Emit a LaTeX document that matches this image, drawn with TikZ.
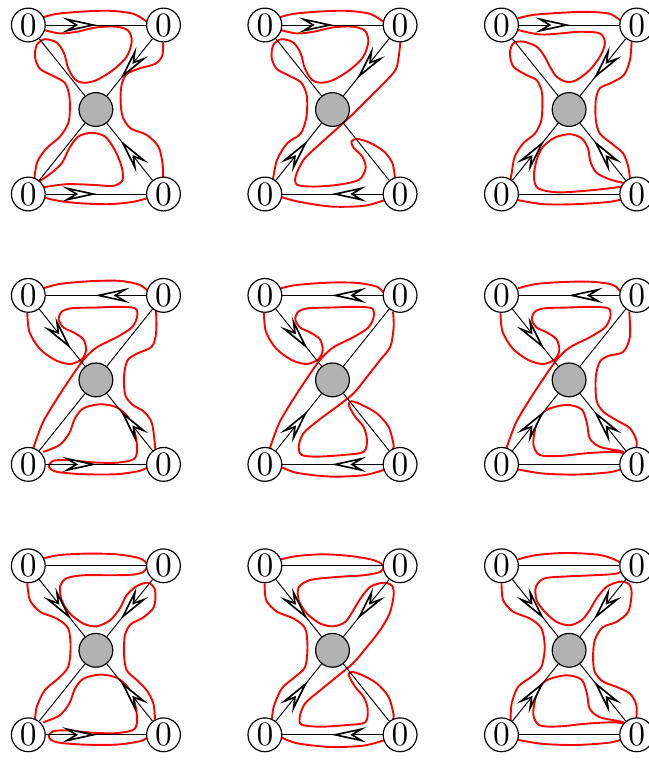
\documentclass[tikz,border=0pt]{standalone}
\usepackage{tikz}
\usetikzlibrary{decorations.markings}

\begin{document}
\begin{tikzpicture}[
    x=0.5cm, y=0.5cm,
    vert/.style={circle, draw=black, fill=white, line width=0.5pt,
                 minimum size=0.5cm, inner sep=0pt,
                 font=\fontsize{14.4}{17}\selectfont},
    hub/.style={circle, draw=black, fill=black!30, line width=0.5pt,
                minimum size=0.5cm, inner sep=0pt},
    link/.style={line width=0.4pt},
    noarr/.style={},
    arr/.style={postaction={decorate, decoration={markings,
                mark=at position 0.7cm with {\draw[fill=white, line width=0.7pt]
                (0,0) -- (-11pt,2.4pt) -- (-7pt,0pt) -- (-11pt,-2.4pt) -- cycle;}}}},
    ribbon/.style={red, line width=0.8pt}
]
\useasboundingbox (-0.837,0.74) rectangle (18.364,-21.864);

% row 1
\begin{scope}[shift={(0,0)}]
\draw[ribbon] plot[smooth] coordinates {(0.44,0.23) (0.84,0.33) (1.63,0.40) (2.42,0.42) (3.11,0.33) (3.50,0.10)};
\draw[ribbon] plot[smooth] coordinates {(0.47,-0.15) (0.94,-0.25) (1.43,-0.20) (2.02,-0.07) (2.61,-0.05) (2.96,-0.17) (3.06,-0.49) (2.91,-0.94) (2.51,-1.33) (2.02,-1.63) (1.63,-1.71) (1.38,-1.61) (1.18,-1.28) (1.06,-0.84) (0.84,-0.52) (0.49,-0.42) (0.25,-0.59) (0.20,-0.96) (0.35,-1.30) (0.74,-1.51) (1.08,-1.71) (1.21,-2.07) (1.23,-2.51) (1.18,-2.91) (0.94,-3.30) (0.54,-3.65) (0.27,-4.04) (0.18,-4.52)};
\draw[ribbon] plot[smooth] coordinates {(3.99,-0.52) (3.96,-0.92) (3.75,-1.15) (3.30,-1.28) (2.91,-1.45) (2.76,-1.78) (2.73,-2.22) (2.79,-2.71) (3.03,-3.06) (3.50,-3.25) (3.85,-3.60) (3.97,-4.09) (3.99,-4.49)};
\draw[ribbon] plot[smooth] coordinates {(3.50,-5.13) (3.11,-5.23) (2.42,-5.30) (1.63,-5.28) (0.94,-5.21) (0.44,-5.10)};
\draw[ribbon] plot[smooth] coordinates {(0.33,-4.62) (0.64,-4.41) (0.99,-4.09) (1.21,-3.65) (1.48,-3.30) (1.87,-3.19) (2.27,-3.30) (2.56,-3.70) (2.76,-4.19) (2.79,-4.59) (2.51,-4.76) (1.92,-4.73) (1.13,-4.71) (0.45,-4.80)};
\end{scope}

\begin{scope}[shift={(7,0)}]
\draw[ribbon] plot[smooth] coordinates {(0.44,0.23) (0.84,0.33) (1.63,0.40) (2.42,0.42) (3.11,0.33) (3.50,0.10)};
\draw[ribbon] plot[smooth] coordinates {(0.47,-0.15) (0.94,-0.25) (1.43,-0.20) (2.02,-0.07) (2.61,-0.05) (2.96,-0.17) (3.06,-0.49) (2.91,-0.94) (2.51,-1.33) (2.02,-1.63) (1.63,-1.71) (1.38,-1.61) (1.18,-1.28) (1.06,-0.84) (0.84,-0.52) (0.49,-0.42) (0.25,-0.59) (0.20,-0.96) (0.35,-1.30) (0.74,-1.51) (1.08,-1.71) (1.24,-2.10) (1.23,-2.71) (1.06,-3.21) (0.66,-3.50) (0.36,-3.99) (0.24,-4.56)};
\draw[ribbon] plot[smooth] coordinates {(4.01,-0.49) (3.96,-0.93) (3.87,-1.32) (3.57,-1.67) (3.13,-2.11) (2.63,-2.61) (2.14,-3.06) (1.65,-3.50) (1.15,-3.98) (0.91,-4.48) (0.96,-4.73) (1.45,-4.78) (2.14,-4.73) (2.78,-4.58) (2.98,-4.23) (2.88,-3.89) (2.63,-3.64) (2.56,-3.45) (2.73,-3.37) (3.12,-3.49) (3.52,-3.74) (3.77,-4.08) (3.85,-4.53)};
\draw[ribbon] plot[smooth] coordinates {(3.57,-5.17) (2.93,-5.35) (1.94,-5.37) (0.96,-5.22) (0.46,-5.08)};
\end{scope}

\begin{scope}[shift={(14,0)}]
\draw[ribbon] plot[smooth] coordinates {(0.49,0.20) (0.94,0.30) (1.73,0.36) (2.51,0.39) (3.21,0.33) (3.55,0.10)};
\draw[ribbon] plot[smooth] coordinates {(0.49,-0.15) (1.13,-0.28) (1.73,-0.25) (2.32,-0.20) (2.91,-0.25) (3.06,-0.54) (2.91,-0.94) (2.61,-1.33) (2.22,-1.63) (1.92,-1.68) (1.63,-1.53) (1.43,-1.23) (1.28,-0.94) (1.04,-0.64) (0.64,-0.49) (0.35,-0.54) (0.25,-0.84) (0.35,-1.23) (0.74,-1.48) (1.04,-1.63) (1.18,-1.92) (1.21,-2.22) (1.18,-2.81) (0.99,-3.21) (0.64,-3.50) (0.39,-3.90) (0.30,-4.39) (0.27,-4.58)};
\draw[ribbon] plot[smooth] coordinates {(3.85,-0.48) (3.80,-1.04) (3.62,-1.48) (3.25,-1.71) (2.91,-1.87) (2.79,-2.22) (2.79,-2.81) (2.91,-3.21) (3.25,-3.50) (3.60,-3.80) (3.75,-4.19) (3.80,-4.55)};
\draw[ribbon] plot[smooth] coordinates {(0.49,-5.18) (1.23,-5.30) (2.22,-5.30) (3.21,-5.23) (3.65,-5.13)};
\draw[ribbon] plot[smooth] coordinates {(3.65,-4.68) (3.21,-4.57) (2.81,-4.37) (2.63,-4.04) (2.56,-3.65) (2.37,-3.35) (2.02,-3.23) (1.58,-3.33) (1.23,-3.60) (1.04,-3.99) (0.96,-4.49) (1.08,-4.83) (1.63,-4.95) (2.42,-4.91) (3.21,-4.83) (3.55,-4.78)};
\end{scope}

% row 2
\begin{scope}[shift={(0,-8)}]
\draw[ribbon] plot[smooth] coordinates {(0.44,0.21) (0.94,0.34) (1.82,0.42) (2.71,0.43) (3.30,0.31) (3.55,0.11)};
\draw[ribbon] plot[smooth] coordinates {(-0.03,-0.51) (0.03,-1.07) (0.33,-1.57) (0.79,-1.91) (1.23,-2.03) (1.58,-1.89) (1.71,-1.62) (1.63,-1.30) (1.35,-1.10) (1.04,-0.95) (0.90,-0.71) (0.99,-0.48) (1.28,-0.38) (1.92,-0.36) (2.66,-0.34) (3.16,-0.38) (3.22,-0.63) (3.06,-0.95) (2.61,-1.24) (2.02,-1.54) (1.63,-1.91) (1.18,-2.55) (0.79,-3.15) (0.44,-3.74) (0.23,-4.28) (0.15,-4.52)};
\draw[ribbon] plot[smooth] coordinates {(3.78,-0.45) (3.78,-1.12) (3.65,-1.52) (3.22,-1.72) (2.93,-1.93) (2.83,-2.41) (2.87,-2.95) (3.09,-3.24) (3.42,-3.44) (3.66,-3.79) (3.76,-4.56)};
\draw[ribbon] plot[smooth] coordinates {(0.44,-4.63) (0.92,-4.43) (1.21,-4.08) (1.38,-3.64) (1.63,-3.34) (2.12,-3.22) (2.61,-3.31) (2.96,-3.61) (3.16,-4.08) (3.22,-4.58) (3.11,-4.85) (2.61,-4.95) (1.92,-4.94) (1.13,-4.87) (0.72,-4.90) (0.61,-5.07) (0.84,-5.22) (1.63,-5.29) (2.61,-5.29) (3.30,-5.19) (3.55,-5.07)};
\end{scope}

\begin{scope}[shift={(7,-8)}]
\draw[ribbon] plot[smooth] coordinates {(0.47,0.21) (0.95,0.31) (1.93,0.38) (2.72,0.37) (3.31,0.26) (3.51,0.08)};
\draw[ribbon] plot[smooth] coordinates {(-0.03,-0.51) (0.03,-1.07) (0.33,-1.57) (0.79,-1.91) (1.23,-2.03) (1.58,-1.89) (1.71,-1.62) (1.63,-1.30) (1.35,-1.10) (1.04,-0.95) (0.90,-0.71) (0.99,-0.48) (1.28,-0.38) (1.92,-0.36) (2.66,-0.34) (3.16,-0.38) (3.22,-0.63) (3.06,-0.95) (2.61,-1.24) (2.02,-1.54) (1.63,-1.91) (1.18,-2.55) (0.79,-3.15) (0.44,-3.74) (0.23,-4.28) (0.15,-4.52)};
\draw[ribbon] plot[smooth] coordinates {(3.79,-0.48) (3.81,-0.93) (3.71,-1.52) (3.41,-1.91) (3.02,-2.41) (2.62,-2.90) (2.13,-3.29) (1.59,-3.69) (1.14,-4.08) (1.00,-4.48) (1.09,-4.72) (1.54,-4.77) (2.33,-4.72) (2.92,-4.63) (3.02,-4.28) (2.92,-3.89) (2.67,-3.59) (2.48,-3.24) (2.57,-3.13) (2.87,-3.24) (3.31,-3.49) (3.66,-3.89) (3.81,-4.43) (3.78,-4.55)};
\draw[ribbon] plot[smooth] coordinates {(3.56,-5.15) (2.92,-5.32) (1.93,-5.36) (0.95,-5.25) (0.47,-5.07)};
\end{scope}

\begin{scope}[shift={(14,-8)}]
\draw[ribbon] plot[smooth] coordinates {(0.49,0.21) (1.04,0.34) (1.92,0.40) (2.71,0.40) (3.30,0.31) (3.55,0.08)};
\draw[ribbon] plot[smooth] coordinates {(-0.03,-0.51) (0.03,-1.07) (0.33,-1.57) (0.79,-1.91) (1.23,-2.03) (1.58,-1.89) (1.71,-1.62) (1.63,-1.30) (1.35,-1.10) (1.04,-0.95) (0.90,-0.71) (0.99,-0.48) (1.28,-0.38) (1.92,-0.36) (2.66,-0.34) (3.16,-0.38) (3.22,-0.63) (3.06,-0.95) (2.61,-1.24) (2.02,-1.54) (1.63,-1.91) (1.18,-2.55) (0.79,-3.15) (0.44,-3.74) (0.23,-4.28) (0.15,-4.52)};
\draw[ribbon] plot[smooth] coordinates {(3.78,-0.48) (3.80,-1.22) (3.60,-1.67) (3.16,-1.79) (2.91,-1.96) (2.79,-2.41) (2.81,-3.10) (3.01,-3.44) (3.40,-3.69) (3.80,-3.93) (3.99,-4.28) (3.99,-4.50)};
\draw[ribbon] plot[smooth] coordinates {(3.65,-4.67) (3.30,-4.63) (2.51,-4.67) (1.73,-4.75) (1.13,-4.72) (0.94,-4.38) (1.06,-3.74) (1.33,-3.39) (1.92,-3.24) (2.37,-3.37) (2.53,-3.79) (2.61,-4.23) (2.91,-4.48) (3.50,-4.60) (3.62,-4.64)};
\draw[ribbon] plot[smooth] coordinates {(0.49,-5.15) (1.23,-5.27) (2.22,-5.30) (3.21,-5.23) (3.65,-5.10)};
\end{scope}

% row 3
\begin{scope}[shift={(0,-16)}]
\draw[ribbon] plot[smooth] coordinates {(0.44,0.22) (0.94,0.32) (1.73,0.36) (2.61,0.34) (3.30,0.22) (3.52,0.02) (3.40,-0.18) (3.11,-0.26) (2.51,-0.28) (1.63,-0.28) (1.13,-0.37) (0.94,-0.62) (0.99,-1.02) (1.23,-1.41) (1.63,-1.71) (2.02,-1.79) (2.42,-1.61) (2.71,-1.26) (2.91,-0.87) (3.21,-0.60) (3.55,-0.50) (3.75,-0.72) (3.72,-1.21) (3.40,-1.53) (3.03,-1.73) (2.86,-2.05) (2.83,-2.59) (2.91,-3.09) (3.21,-3.38) (3.50,-3.68) (3.70,-4.07) (3.75,-4.55)};
\draw[ribbon] plot[smooth] coordinates {(-0.03,-0.52) (0.05,-1.02) (0.35,-1.36) (0.84,-1.56) (1.18,-1.85) (1.25,-2.40) (1.18,-2.99) (0.89,-3.33) (0.49,-3.68) (0.25,-4.17) (0.20,-4.55)};
\draw[ribbon] plot[smooth] coordinates {(0.44,-4.63) (0.92,-4.43) (1.21,-4.08) (1.38,-3.64) (1.63,-3.34) (2.12,-3.22) (2.61,-3.31) (2.96,-3.61) (3.16,-4.08) (3.22,-4.58) (3.11,-4.85) (2.61,-4.95) (1.92,-4.94) (1.13,-4.87) (0.72,-4.90) (0.61,-5.07) (0.84,-5.22) (1.63,-5.29) (2.61,-5.29) (3.30,-5.19) (3.55,-5.07)};
\end{scope}

\begin{scope}[shift={(7,-16)}]
\draw[ribbon] plot[smooth] coordinates {(0.47,0.19) (0.95,0.29) (1.74,0.34) (2.52,0.29) (3.21,0.17) (3.51,0.0) (3.41,-0.18) (2.92,-0.28) (2.13,-0.33) (1.34,-0.42) (1.00,-0.64) (1.00,-1.02) (1.24,-1.41) (1.64,-1.71) (2.03,-1.79) (2.38,-1.66) (2.62,-1.31) (2.82,-0.98) (3.12,-0.62) (3.51,-0.50) (3.76,-0.59) (3.81,-0.87) (3.69,-1.41) (3.41,-1.90) (3.02,-2.40) (2.62,-2.87) (2.13,-3.28) (1.64,-3.68) (1.19,-4.07) (1.03,-4.47) (1.09,-4.70) (1.64,-4.76) (2.43,-4.71) (2.97,-4.63) (3.04,-4.23) (2.92,-3.88) (2.67,-3.58) (2.48,-3.23) (2.57,-3.14) (2.87,-3.23) (3.31,-3.48) (3.66,-3.88) (3.81,-4.42) (3.78,-4.55)};
\draw[ribbon] plot[smooth] coordinates {(-0.01,-0.52) (0.04,-1.02) (0.36,-1.36) (0.85,-1.56) (1.19,-1.85) (1.26,-2.40) (1.19,-2.99) (0.90,-3.28) (0.50,-3.63) (0.26,-4.17) (0.21,-4.55)};
\draw[ribbon] plot[smooth] coordinates {(3.56,-5.15) (2.92,-5.32) (1.93,-5.36) (0.95,-5.25) (0.47,-5.07)};
\end{scope}

\begin{scope}[shift={(14,-16)}]
\draw[ribbon] plot[smooth] coordinates {(0.49,0.19) (1.04,0.32) (1.92,0.38) (2.91,0.32) (3.48,0.12) (3.60,-0.08) (3.40,-0.23) (2.71,-0.28) (2.02,-0.31) (1.28,-0.37) (1.02,-0.62) (1.04,-1.02) (1.28,-1.36) (1.63,-1.66) (2.02,-1.76) (2.37,-1.61) (2.61,-1.31) (2.81,-0.97) (3.11,-0.62) (3.50,-0.47) (3.77,-0.54) (3.85,-0.82) (3.75,-1.36) (3.40,-1.66) (2.99,-1.82) (2.76,-2.20) (2.71,-2.69) (2.76,-3.14) (3.01,-3.43) (3.40,-3.58) (3.80,-3.78) (3.99,-4.12) (3.99,-4.50)};
\draw[ribbon] plot[smooth] coordinates {(0.0,-0.52) (0.05,-1.02) (0.35,-1.36) (0.84,-1.56) (1.18,-1.85) (1.28,-2.40) (1.18,-2.99) (0.89,-3.28) (0.49,-3.58) (0.30,-4.08) (0.27,-4.58)};
\draw[ribbon] plot[smooth] coordinates {(3.65,-4.67) (3.30,-4.63) (2.51,-4.67) (1.73,-4.75) (1.13,-4.72) (0.94,-4.38) (1.06,-3.74) (1.33,-3.39) (1.92,-3.24) (2.37,-3.37) (2.53,-3.79) (2.61,-4.23) (2.91,-4.48) (3.50,-4.60) (3.62,-4.64)};
\draw[ribbon] plot[smooth] coordinates {(0.49,-5.15) (1.23,-5.27) (2.22,-5.30) (3.21,-5.23) (3.65,-5.10)};
\end{scope}

% graphs
\foreach \ri/\ta/\tb/\ts/\sl/\sr in {0/tl/tr/arr/noarr/arr, 1/tr/tl/arr/arr/noarr, 2/tl/tr/noarr/arr/arr}
\foreach \ci/\ba/\bb/\bs/\bl/\br in {0/bl/br/arr/noarr/arr, 1/br/bl/arr/arr/noarr, 2/bl/br/noarr/arr/arr}
{
\begin{scope}[shift={(7*\ci,-8*\ri)}]
\node[vert] (tl\ri\ci) at (0,0)    {0};
\node[vert] (tr\ri\ci) at (4,0)    {0};
\node[vert] (bl\ri\ci) at (0,-5)   {0};
\node[vert] (br\ri\ci) at (4,-5)   {0};
\node[hub]  (ce\ri\ci) at (2,-2.5) {};
\draw[link, \ts] (\ta\ri\ci) -- (\tb\ri\ci);
\draw[link, \bs] (\ba\ri\ci) -- (\bb\ri\ci);
\draw[link, \sl] (tl\ri\ci) -- (ce\ri\ci);
\draw[link, \sr] (tr\ri\ci) -- (ce\ri\ci);
\draw[link, \bl] (bl\ri\ci) -- (ce\ri\ci);
\draw[link, \br] (br\ri\ci) -- (ce\ri\ci);
\end{scope}
}
\end{tikzpicture}
\end{document}
